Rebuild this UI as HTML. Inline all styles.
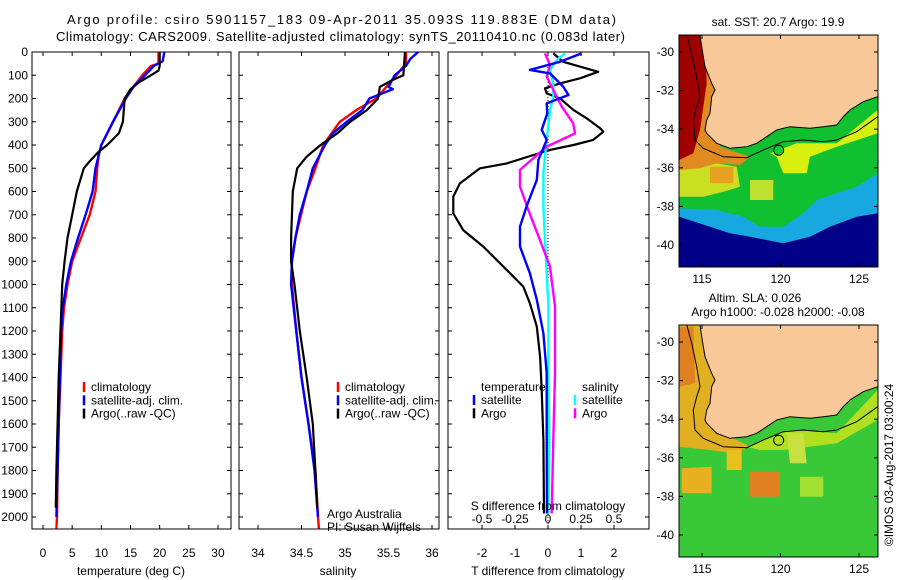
<!DOCTYPE html>
<html><head><meta charset="utf-8">
<style>
body{margin:0;background:#fff;}
svg{display:block;font-family:"Liberation Sans",sans-serif;}
text{font-size:12px;fill:#000;}
</style></head>
<body>
<svg id="c" width="900" height="580" viewBox="0 0 900 580">
<text x="67" y="24" textLength="549" lengthAdjust="spacing" style="font-size:13px">Argo profile: csiro 5901157_183 09-Apr-2011 35.093S 119.883E (DM data)</text>
<text x="56" y="41" textLength="569" lengthAdjust="spacing" style="font-size:13px">Climatology: CARS2009. Satellite-adjusted climatology: synTS_20110410.nc (0.083d later)</text>
<g id="p1"></g>
<g id="p2"></g>
<g id="p3"></g>
<g id="m1"></g>
<g id="m2"></g>
<text transform="translate(893,465) rotate(-90)" text-anchor="middle">©IMOS 03-Aug-2017 03:00:24</text>
</svg>
<script>
const depthTicks=[0,100,200,300,400,500,600,700,800,900,1000,1100,1200,1300,1400,1500,1600,1700,1800,1900,2000];
const tempTicks=[0,5,10,15,20,25,30];
const salTicks=[34,34.5,35,35.5,36];
const tdiffTicks=[-2,-1,0,1,2];
const sdiffTicks=[-0.5,-0.25,0,0.25,0.5];
const sdiffLabels=["-0.5","-0.25","0","0.25","0.5"];
// temperature profiles
const tClimP=[0,50,60,100,150,200,300,400,450,500,600,700,800,900,1000,1100,1200,1400,1600,1800,2000,2050];
const tClimV=[19.8,19.8,18.5,17,15.5,14,12,10,9.5,9.3,9,8,6.5,5,4.2,3.6,3.3,3,2.7,2.5,2.4,2.3];
const tSatP=[0,40,60,100,150,200,300,400,450,500,600,700,800,900,1000,1100,1200,1400,1600,1800,2000];
const tSatV=[20.8,20.5,19,17.5,15.5,14.2,12,10,9.5,9,8.5,7.3,6,4.8,4,3.4,3.1,2.9,2.7,2.5,2.3];
const tArgoP=[0,60,80,100,130,160,200,300,350,400,430,470,500,600,700,800,900,1000,1200,1400,1600,1800,1960];
const tArgoV=[20,20,19.8,18.5,16.5,15,14,13.7,13,11,9.5,8,7,5.8,5,4.2,3.7,3.3,3,2.7,2.5,2.3,2.2];
// salinity profiles
const sClimP=[0,50,100,200,250,300,400,500,600,800,900,1000,1200,1400,1600,1800,2000,2050];
const sClimV=[35.7,35.7,35.59,35.36,35.13,34.94,34.75,34.66,34.56,34.43,34.39,34.39,34.44,34.5,34.58,34.66,34.69,34.7];
const sSatP=[0,30,60,100,150,160,200,250,300,350,400,500,600,700,800,900,1000,1200,1400,1600,1800,2000];
const sSatV=[35.84,35.75,35.7,35.57,35.5,35.55,35.28,35.2,35.02,34.86,34.77,34.63,34.56,34.48,34.43,34.39,34.38,34.44,34.5,34.58,34.65,34.69];
const sArgoP=[0,100,120,150,200,250,300,350,400,450,500,600,800,900,1000,1200,1400,1600,1800,1960];
const sArgoV=[35.69,35.67,35.55,35.4,35.38,35.25,35.06,34.91,34.72,34.56,34.45,34.4,34.38,34.38,34.42,34.48,34.56,34.63,34.66,34.68];
// difference profiles
const dTArgoP=[6,42,85,113,135,156,178,199,249,285,328,343,378,400,421,443,479,500,565,622,694,766,837,923,1009,1081,1181,1310,1454,1669,1985];
const dTArgoV=[0.16,0.46,1.52,0.97,0.36,-0.09,-0.04,0.36,0.77,1.17,1.58,1.68,1.37,0.77,0.06,-0.44,-1.25,-2.06,-2.67,-2.87,-2.87,-2.57,-1.96,-1.35,-0.75,-0.55,-0.34,-0.24,-0.19,-0.14,-0.12];
const dTSatP=[6,42,77,92,149,185,221,264,335,378,464,550,665,751,837,952,1066,1210,1382,1669,1985];
const dTSatV=[1.02,0.36,-0.55,0.06,0.46,0.62,-0.04,-0.02,-0.19,-0.04,-0.29,-0.34,-0.65,-0.85,-0.85,-0.55,-0.34,-0.14,-0.04,-0.04,-0.03];
const dSSatP=[6,34,77,135,192,249,378,521,665,808,952,1095,1382,1669,1985];
const dSSatV=[0.129,0.066,0.015,0.04,0.04,0.015,-0.01,-0.035,-0.035,-0.023,-0.01,0.003,0.003,0.01,0.003];
const dSArgoP=[6,56,106,163,235,306,350,407,507,579,679,808,923,1095,1382,1669,1985];
const dSArgoV=[-0.023,0.015,-0.01,0.04,0.104,0.19,0.205,-0.01,-0.212,-0.212,-0.149,-0.061,0.015,0.053,0.053,0.04,0.028];
// map tick labels
const latTicks=[-30,-32,-34,-36,-38,-40];
const lonTicks=[115,120,125];
const argoLon=119.883, argoLat=-35.093;

const NS="http://www.w3.org/2000/svg";
function mk(parent,tag,attrs,txt){const e=document.createElementNS(NS,tag);for(const k in attrs)e.setAttribute(k,attrs[k]);if(txt!==undefined)e.textContent=txt;parent.appendChild(e);return e;}
const T0=52,B0=529;
const py=d=>T0+d*0.2325;
function frame(g,x0,x1,y0,y1){const r=mk(g,'rect',{x:x0,y:y0,width:x1-x0,height:y1-y0,fill:'none',stroke:'#000','stroke-width':1});}
function yTicks(g,x0,x1,labels){depthTicks.forEach(d=>{const y=py(d);mk(g,'line',{x1:x0,x2:x0+4,y1:y,y2:y,stroke:'#000'});mk(g,'line',{x1:x1-4,x2:x1,y1:y,y2:y,stroke:'#000'});if(labels){const t=mk(g,'text',{x:x0-4,y:y+4,'text-anchor':'end'},String(d));}});}
function xTicks(g,vals,fx,lbls,yb){vals.forEach((v,i)=>{const x=fx(v);mk(g,'line',{x1:x,x2:x,y1:B0,y2:B0-4,stroke:'#000'});mk(g,'line',{x1:x,x2:x,y1:T0,y2:T0+4,stroke:'#000'});const t=mk(g,'text',{x:x,y:yb,'text-anchor':'middle'},lbls?lbls[i]:String(v));});}
function line(g,P,V,fx,col,w,name){const pts=P.map((p,i)=>fx(V[i]).toFixed(1)+','+py(p).toFixed(1)).join(' ');const l=mk(g,'polyline',{points:pts,fill:'none',stroke:col,'stroke-width':w,'stroke-linejoin':'round'});}
function legend(g,x,items,y0){items.forEach((it,i)=>{const y=y0+i*13.3;mk(g,'line',{x1:x,x2:x,y1:y-5,y2:y+5,stroke:it[1],'stroke-width':2.5});const t=mk(g,'text',{x:x+7,y:y+4},it[0]);});}

// Panel 1
const p1=document.getElementById('p1');
const fT=v=>43+v*5.833;
frame(p1,32,231,T0,B0);yTicks(p1,32,231,true);xTicks(p1,tempTicks,fT,null,557);
line(p1,tClimP,tClimV,fT,'#f00',2.4,'temp-climatology-line');
line(p1,tSatP,tSatV,fT,'#00f',2.4,'temp-satellite-line');
line(p1,tArgoP,tArgoV,fT,'#000',2.2,'temp-argo-line');
legend(p1,84,[['climatology','#f00'],['satellite-adj. clim.','#00f'],['Argo(..raw -QC)','#000']],387);
{const t=mk(p1,'text',{x:131,y:575,'text-anchor':'middle'},'temperature (deg C)');}

// Panel 2
const p2=document.getElementById('p2');
const fS=v=>258+(v-34)*87;
frame(p2,239,439,T0,B0);yTicks(p2,239,439,false);xTicks(p2,salTicks,fS,null,557);
line(p2,sClimP,sClimV,fS,'#f00',2.4,'sal-climatology-line');
line(p2,sSatP,sSatV,fS,'#00f',2.4,'sal-satellite-line');
line(p2,sArgoP,sArgoV,fS,'#000',2.2,'sal-argo-line');
legend(p2,338,[['climatology','#f00'],['satellite-adj. clim.','#00f'],['Argo(..raw -QC)','#000']],387);
{let t=mk(p2,'text',{x:327,y:518},'Argo Australia');
t=mk(p2,'text',{x:327,y:531},'PI: Susan Wijffels');
t=mk(p2,'text',{x:338,y:575,'text-anchor':'middle'},'salinity');}

// Panel 3
const p3=document.getElementById('p3');
const fdT=v=>548+v*33, fdS=v=>548+v*132;
frame(p3,448,649,T0,B0);yTicks(p3,448,649,false);xTicks(p3,tdiffTicks,fdT,null,557);
sdiffTicks.forEach((v,i)=>{const t=mk(p3,'text',{x:fdS(v),y:523,'text-anchor':'middle'},sdiffLabels[i]);});
mk(p3,'line',{x1:548,x2:548,y1:T0,y2:B0,stroke:'#000','stroke-dasharray':'1,2'});
line(p3,dTArgoP,dTArgoV,fdT,'#000',2.2,'tdiff-argo-line');
line(p3,dSSatP,dSSatV,fdS,'#0ff',2.4,'sdiff-satellite-line');
line(p3,dSArgoP,dSArgoV,fdS,'#f0f',2.4,'sdiff-argo-line');
line(p3,dTSatP,dTSatV,fdT,'#00f',2.4,'tdiff-satellite-line');
{let t=mk(p3,'text',{x:481,y:391},'temperature');
t=mk(p3,'text',{x:582,y:391},'salinity');}
legend(p3,474,[['satellite','#00f'],['Argo','#000']],400);
legend(p3,575,[['satellite','#0ff'],['Argo','#f0f']],400);
{let t=mk(p3,'text',{x:548,y:510,'text-anchor':'middle'},'S difference from climatology');
t=mk(p3,'text',{x:548,y:575,'text-anchor':'middle'},'T difference from climatology');}

// Maps (shapes in zoom-crop coords: x=650+zx/3, y=oy+zy/3)
const mx=lon=>702+(lon-115)*15.7;
const land=[[150,104],[155,140],[165,200],[185,250],[195,270],[185,290],[180,340],[170,360],[165,390],[170,400],[200,430],[240,445],[290,440],[320,430],[350,410],[380,390],[420,380],[480,385],[520,380],[560,375],[580,350],[600,330],[640,305],[683,290],[683,104]];
const contour=[[110,104],[125,160],[140,230],[150,290],[140,320],[130,360],[135,420],[160,445],[220,470],[290,473],[340,450],[400,425],[460,420],[520,425],[560,420],[620,395],[683,350]];
function pts(arr,oy){return arr.map(p=>(650+p[0]/3).toFixed(1)+','+(oy+p[1]/3).toFixed(1)).join(' ');}
function poly(g,arr,oy,fill,name){const p=mk(g,'polygon',{points:pts(arr,oy),fill:fill});}
function map(id,oy,sst){
 const g=document.getElementById(id);const y0=oy+35,y1=oy+267;const my=lat=>oy+52+(-30-lat)*19.3;
 const cp=mk(g,'clipPath',{id:'cl'+id});mk(cp,'rect',{x:679,y:y0,width:199,height:y1-y0});
 const gg=mk(g,'g',{'clip-path':'url(#cl'+id+')'});
 if(sst){
  poly(gg,[[88,104],[683,104],[683,802],[88,802]],oy,'#000088','ocean-deep');
  poly(gg,[[88,104],[683,104],[683,640],[620,650],[540,680],[480,710],[400,730],[300,710],[240,700],[180,680],[88,650]],oy,'#18a8e0','ocean-cool');
  poly(gg,[[88,104],[683,104],[683,520],[620,560],[560,580],[500,600],[460,640],[400,680],[330,680],[280,650],[200,630],[88,625]],oy,'#10c030','ocean-green');
  poly(gg,[[88,500],[200,490],[260,500],[270,560],[220,575],[160,590],[88,590]],oy,'#c8e020','ocean-yellow-west');
  poly(gg,[[300,540],[370,540],[370,600],[300,600]],oy,'#c0e030','ocean-yellow-mid');
  poly(gg,[[360,460],[440,430],[560,430],[683,330],[683,400],[560,440],[480,470],[470,520],[400,520],[380,470]],oy,'#d8f010','ocean-yellow-coast');
  poly(gg,[[88,104],[210,104],[210,440],[300,470],[270,495],[200,490],[150,505],[88,510]],oy,'#e08a20','ocean-orange');
  poly(gg,[[180,500],[250,500],[250,550],[180,550]],oy,'#e8a020','ocean-orange-blob');
  poly(gg,[[88,104],[165,104],[170,250],[150,390],[130,460],[88,480]],oy,'#a00000','ocean-warm');
 }else{
  poly(gg,[[88,104],[683,104],[683,802],[88,802]],oy,'#38c838','ocean-base');
  poly(gg,[[88,104],[200,104],[200,390],[250,445],[300,470],[250,490],[180,480],[88,470]],oy,'#e0b020','ocean-high-coast');
  poly(gg,[[88,110],[130,110],[135,280],[88,290]],oy,'#e08020','ocean-high-west');
  poly(gg,[[290,470],[420,420],[560,430],[683,300],[683,390],[560,460],[400,480],[330,480]],oy,'#b0e020','ocean-coast-band');
  poly(gg,[[95,535],[185,530],[185,610],[95,610]],oy,'#e8b020','sla-blob-1');
  poly(gg,[[300,545],[390,545],[390,620],[300,620]],oy,'#e08020','sla-blob-2');
  poly(gg,[[410,430],[460,430],[470,520],[420,520]],oy,'#c8e040','sla-blob-3');
  poly(gg,[[230,480],[275,480],[275,540],[230,540]],oy,'#e8c020','sla-blob-4');
  poly(gg,[[450,560],[520,560],[520,620],[450,620]],oy,'#a0e030','sla-blob-5');
 }
 poly(gg,land,oy,'#f8c898','land');
 mk(gg,'polyline',{points:pts(land.slice(0,-1),oy),fill:'none',stroke:'#000','stroke-width':1});
 mk(gg,'polyline',{points:pts(contour,oy),fill:'none',stroke:'#000','stroke-width':1});
 const r=mk(g,'rect',{x:679,y:y0,width:199,height:y1-y0,fill:'none',stroke:'#000'});
 
 const m=mk(g,'circle',{cx:mx(argoLon),cy:my(argoLat),r:5,fill:sst?'#10d030':'none',stroke:'#000'});
 
 latTicks.forEach(v=>{const y=my(v);mk(g,'line',{x1:679,x2:683,y1:y,y2:y,stroke:'#000'});mk(g,'line',{x1:874,x2:878,y1:y,y2:y,stroke:'#000'});const t=mk(g,'text',{x:674,y:y+4,'text-anchor':'end'},String(v));});
 lonTicks.forEach(v=>{const x=mx(v);mk(g,'line',{x1:x,x2:x,y1:y0,y2:y0+4,stroke:'#000'});mk(g,'line',{x1:x,x2:x,y1:y1-4,y2:y1,stroke:'#000'});const t=mk(g,'text',{x:x,y:y1+16,'text-anchor':'middle'},String(v));});
}
map('m1',0,true);map('m2',290,false);
{const g1=document.getElementById('m1');let t=mk(g1,'text',{x:778,y:26,'text-anchor':'middle'},'sat. SST: 20.7 Argo: 19.9');
const g2=document.getElementById('m2');t=mk(g2,'text',{x:755,y:302,'text-anchor':'middle'},'Altim. SLA: 0.026');
t=mk(g2,'text',{x:778,y:316,'text-anchor':'middle'},'Argo h1000: -0.028 h2000: -0.08');}
</script>
</body></html>
